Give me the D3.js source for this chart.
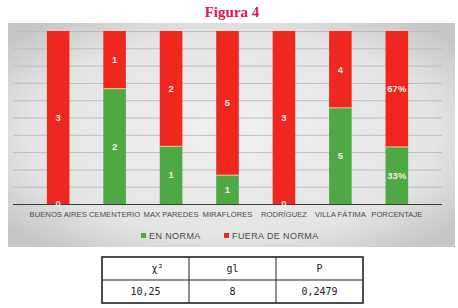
<!DOCTYPE html>
<html>
<head>
<meta charset="utf-8">
<script src="https://cdn.jsdelivr.net/npm/d3@7"></script>
<style>
    body { margin: 0; background: #fff; }
</style>
</head>
<body>
<div id="chart"></div>
<script>
const categories = ["BUENOS AIRES", "CEMENTERIO", "MAX PAREDES", "MIRAFLORES", "RODRÍGUEZ", "VILLA FÁTIMA", "PORCENTAJE"]
const enNorma = [0, 2, 1, 1, 0, 5, 33]
const fueraNorma = [3, 1, 2, 5, 3, 4, 67]
const seriesNames = ["EN NORMA", "FUERA DE NORMA"]
const tableHead = ["χ²", "gl", "P"]
const tableRow = ["10,25", "8", "0,2479"]

const W = 458, H = 308
const colors = {green: "#4ea844", red: "#f0271f"}

const svg = d3.select("#chart")
    .append("svg")
    .attr("width", W)
    .attr("height", H)

// title
svg.append("text")
    .attr("x", 232)
    .attr("y", 17)
    .attr("text-anchor", "middle")
    .style("font-family", "Liberation Serif")
    .style("font-weight", "bold")
    .style("font-size", "15px")
    .style("fill", "#e3125b")
    .text("Figura 4")

// chart background with faded frame
const grad = svg.append("defs").append("radialGradient")
    .attr("id", "bg")
    .attr("cx", "50%").attr("cy", "50%").attr("r", "65%")
grad.append("stop").attr("offset", "0%").attr("stop-color", "#f0f0f0")
grad.append("stop").attr("offset", "70%").attr("stop-color", "#e4e4e4")
grad.append("stop").attr("offset", "100%").attr("stop-color", "#c6c6c6")

svg.append("rect")
    .attr("x", 8)
    .attr("y", 23)
    .attr("width", 447)
    .attr("height", 224)
    .style("fill", "url(#bg)")

const plot = {left: 13, right: 442, top: 31, bottom: 204}

const x = d3.scaleBand()
    .domain(categories)
    .range([plot.left, plot.right])
    .padding(0.6)

const y = d3.scaleLinear()
    .domain([0, 1])
    .range([plot.bottom, plot.top])

// gridlines
svg.append("g")
    .selectAll("line")
    .data(d3.range(1, 11).map(d => d / 10))
    .enter()
    .append("line")
    .attr("x1", plot.left)
    .attr("x2", plot.right)
    .attr("y1", d => y(d) + 0.5)
    .attr("y2", d => y(d) + 0.5)
    .style("stroke", "#bcbcc4")
    .style("stroke-width", 1)

const data = categories.map((c, i) => ({
    cat: c,
    green: enNorma[i],
    red: fueraNorma[i],
    total: enNorma[i] + fueraNorma[i],
    pct: c === "PORCENTAJE"
}))

const bars = svg.append("g")

// green segment at the bottom
bars.selectAll(".g")
    .data(data)
    .enter()
    .append("rect")
    .attr("x", d => x(d.cat))
    .attr("width", x.bandwidth())
    .attr("y", d => y(d.green / d.total))
    .attr("height", d => y(0) - y(d.green / d.total))
    .style("fill", colors.green)

// red segment on top
bars.selectAll(".r")
    .data(data)
    .enter()
    .append("rect")
    .attr("x", d => x(d.cat))
    .attr("width", x.bandwidth())
    .attr("y", y(1))
    .attr("height", d => y(d.green / d.total) - y(1))
    .style("fill", colors.red)

// thin light line between segments
bars.selectAll(".sep")
    .data(data.filter(d => d.green > 0))
    .enter()
    .append("line")
    .attr("x1", d => x(d.cat))
    .attr("x2", d => x(d.cat) + x.bandwidth())
    .attr("y1", d => y(d.green / d.total))
    .attr("y2", d => y(d.green / d.total))
    .style("stroke", "#f0c9a8")
    .style("stroke-width", 1)

// axis line
svg.append("line")
    .attr("x1", plot.left)
    .attr("x2", plot.right)
    .attr("y1", plot.bottom + 0.5)
    .attr("y2", plot.bottom + 0.5)
    .style("stroke", "#3a3a3a")
    .style("stroke-width", 1.2)

// value labels
const labels = svg.append("g")
    .style("font-family", "Liberation Sans")
    .style("font-size", "9.5px")
    .style("font-weight", "bold")
    .style("fill", "#f6ece4")
    .attr("text-anchor", "middle")

labels.selectAll(".lg")
    .data(data)
    .enter()
    .append("text")
    .attr("x", d => x(d.cat) + x.bandwidth() / 2)
    .attr("y", d => (y(0) + y(d.green / d.total)) / 2)
    .attr("dy", "0.35em")
    .text(d => d.green + (d.pct ? "%" : ""))

labels.selectAll(".lr")
    .data(data)
    .enter()
    .append("text")
    .attr("x", d => x(d.cat) + x.bandwidth() / 2)
    .attr("y", d => (y(1) + y(d.green / d.total)) / 2)
    .attr("dy", "0.35em")
    .text(d => d.red + (d.pct ? "%" : ""))

// category labels
svg.append("g")
    .selectAll("text")
    .data(categories)
    .enter()
    .append("text")
    .attr("x", d => x(d) + x.bandwidth() / 2)
    .attr("y", 217)
    .attr("text-anchor", "middle")
    .style("font-family", "Liberation Sans")
    .style("font-size", "7.7px")
    .style("fill", "#4a4a4a")
    .text(d => d)

// legend
const legend = svg.append("g")
    .style("font-family", "Liberation Sans")
    .style("font-size", "9px")
    .style("letter-spacing", "0.4px")
    .style("fill", "#4a4a4a")
const legX = [141, 224]
seriesNames.forEach((s, i) => {
    legend.append("rect")
        .attr("x", legX[i])
        .attr("y", 233)
        .attr("width", 5)
        .attr("height", 5)
        .style("fill", i === 0 ? colors.green : colors.red)
    legend.append("text")
        .attr("x", legX[i] + 8)
        .attr("y", 239)
        .text(s)
})

// statistics table
const tb = {x: 102, y: 257, w: 261, rowH: 23}
const colX = d3.scaleBand().domain(d3.range(3)).range([tb.x, tb.x + tb.w])
const table = svg.append("g")

table.append("rect")
    .attr("x", tb.x)
    .attr("y", tb.y)
    .attr("width", tb.w)
    .attr("height", tb.rowH * 2)
    .style("fill", "none")
    .style("stroke", "#222")
    .style("stroke-width", 1.6)

table.append("line")
    .attr("x1", tb.x).attr("x2", tb.x + tb.w)
    .attr("y1", tb.y + tb.rowH).attr("y2", tb.y + tb.rowH)
    .style("stroke", "#222")

table.selectAll(".col")
    .data([1, 2])
    .enter()
    .append("line")
    .attr("x1", d => colX(d)).attr("x2", d => colX(d))
    .attr("y1", tb.y).attr("y2", tb.y + tb.rowH * 2)
    .style("stroke", "#222")

;[tableHead, tableRow].forEach((row, r) => {
    table.selectAll(".row" + r)
        .data(row)
        .enter()
        .append("text")
        .attr("x", (d, i) => colX(i) + colX.bandwidth() / 2 + (r === 0 && i === 0 ? 12 : 0))
        .attr("y", tb.y + tb.rowH * r + tb.rowH / 2)
        .attr("dy", "0.38em")
        .attr("text-anchor", "middle")
        .style("font-family", "DejaVu Sans Mono")
        .style("font-size", "10px")
        .style("fill", "#222")
        .text(d => d)
})
</script>
</body>
</html>
